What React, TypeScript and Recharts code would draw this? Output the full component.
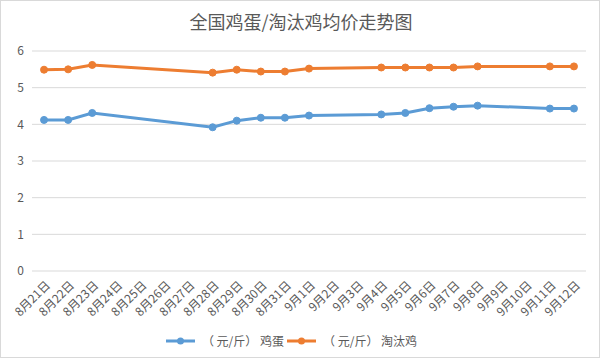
import { CartesianGrid, Legend, Line, LineChart, XAxis, YAxis } from 'recharts'

const dates = [
  '8月21日', '8月22日', '8月23日', '8月24日', '8月25日', '8月26日', '8月27日', '8月28日',
  '8月29日', '8月30日', '8月31日', '9月1日', '9月2日', '9月3日', '9月4日', '9月5日',
  '9月6日', '9月7日', '9月8日', '9月9日', '9月10日', '9月11日', '9月12日',
]

// (元/斤) 鸡蛋
const eggPrice = [
  4.12, 4.12, 4.31, null, null, null, null, 3.92, 4.1, 4.18, 4.18, 4.24, null, null,
  4.27, 4.31, 4.44, 4.48, 4.51, null, null, 4.43, 4.43,
]

// (元/斤) 淘汰鸡
const henPrice = [
  5.49, 5.5, 5.62, null, null, null, null, 5.41, 5.49, 5.44, 5.44, 5.52, null, null,
  5.55, 5.55, 5.55, 5.55, 5.58, null, null, 5.58, 5.58,
]

const yTicks = [0, 1, 2, 3, 4, 5, 6]
// tick marks sit on the category boundaries, labels in the middle of each day
const boundaryTicks = dates.map((_, i) => i).concat(dates.length)
const labelTicks = dates.map((_, i) => i + 0.5)

const data = dates.map((date, i) => ({
  date,
  pos: i + 0.5,
  egg: eggPrice[i],
  hen: henPrice[i],
}))

const FONT = '"Microsoft YaHei", "Noto Sans CJK SC", sans-serif'
const GREY = '#595959'
const GRID = '#d9d9d9'
const BLUE = '#5b9bd5'
const ORANGE = '#ed7d31'

function DateTick({ x, y, payload }: any) {
  const label = dates[Math.floor(payload.value)]
  return (
    <g transform={`translate(${x + 4},${y + 4})`}>
      <text
        x={0}
        y={0}
        dy="0.35em"
        textAnchor="end"
        transform="rotate(-45)"
        fontSize={12}
        fill={GREY}
        fontFamily={FONT}
      >
        {label}
      </text>
    </g>
  )
}

function LegendContent({ payload }: any) {
  const items = [...(payload || [])].sort((a: any, b: any) => (a.dataKey === 'egg' ? -1 : b.dataKey === 'egg' ? 1 : 0))
  return (
    <div style={{ display: 'flex', justifyContent: 'center', fontFamily: FONT, fontSize: 12, color: GREY }}>
      {items.map((entry: any) => (
        <span key={entry.value} style={{ display: 'inline-flex', alignItems: 'center', marginRight: 3 }}>
          <svg width={29} height={10} style={{ marginRight: 7 }}>
            <line x1={0} y1={5} x2={29} y2={5} stroke={entry.color} strokeWidth={3} />
            <circle cx={14.5} cy={5} r={3.5} fill={entry.color} />
          </svg>
          {entry.value}
        </span>
      ))}
    </div>
  )
}

export default function App() {
  return (
    <div style={{ position: 'absolute', left: 0, top: 0, width: 602, height: 360 }}>
      <div
        style={{
          position: 'absolute',
          left: 0,
          top: 0,
          width: 600,
          height: 358,
          border: `1px solid ${GRID}`,
          boxSizing: 'border-box',
        }}
      />
      <div
        style={{
          position: 'absolute',
          left: 0,
          top: 9,
          width: 602,
          textAlign: 'center',
          fontFamily: FONT,
          fontSize: 18,
          color: GREY,
          lineHeight: '24px',
        }}
      >
        全国鸡蛋/淘汰鸡均价走势图
      </div>
      <LineChart width={602} height={360} data={data} margin={{ top: 51, right: 16, bottom: 11, left: 0 }}>
        <CartesianGrid vertical={false} stroke={GRID} />
        <XAxis
          xAxisId="grid"
          dataKey="pos"
          type="number"
          domain={[0, dates.length]}
          ticks={boundaryTicks}
          tick={false}
          tickSize={5}
          height={0}
          stroke={GRID}
          allowDataOverflow
        />
        <XAxis
          xAxisId="label"
          dataKey="pos"
          type="number"
          domain={[0, dates.length]}
          ticks={labelTicks}
          interval={0}
          axisLine={false}
          tickLine={false}
          height={61}
          tick={<DateTick />}
          allowDataOverflow
        />
        <YAxis
          domain={[0, 6]}
          ticks={yTicks}
          width={32}
          axisLine={false}
          tickLine={false}
          tick={{ fontSize: 12, fill: GREY, fontFamily: FONT }}
        />
        <Legend verticalAlign="bottom" content={<LegendContent />} />
        <Line
          xAxisId="grid"
          dataKey="egg"
          name="（ 元/斤） 鸡蛋"
          stroke={BLUE}
          strokeWidth={3}
          connectNulls
          dot={{ r: 3.5, fill: BLUE, stroke: BLUE, strokeWidth: 1 }}
          activeDot={false}
          isAnimationActive={false}
        />
        <Line
          xAxisId="grid"
          dataKey="hen"
          name="（ 元/斤） 淘汰鸡"
          stroke={ORANGE}
          strokeWidth={3}
          connectNulls
          dot={{ r: 3.5, fill: ORANGE, stroke: ORANGE, strokeWidth: 1 }}
          activeDot={false}
          isAnimationActive={false}
        />
      </LineChart>
    </div>
  )
}
